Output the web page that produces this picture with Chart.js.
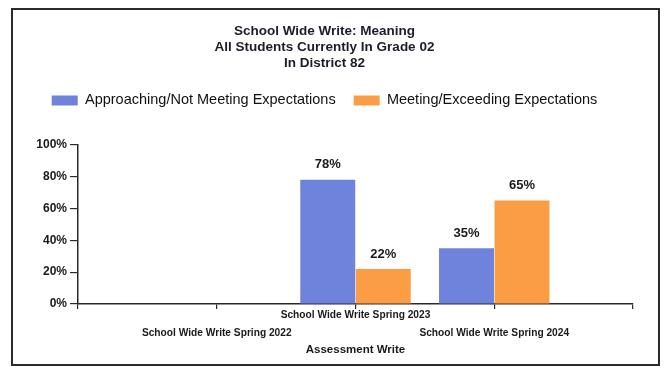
<!DOCTYPE html>
<html>
<head>
<meta charset="utf-8">
<script src="https://cdn.jsdelivr.net/npm/chart.js@4"></script>
<style>
  html, body { margin: 0; padding: 0; background: #ffffff; }
  #wrap { position: relative; width: 667px; height: 366px; overflow: hidden; }
  #frame { position: absolute; left: 11px; top: 8px; width: 645px; height: 354px; border: 2px solid #2b2b2b; box-sizing: content-box; }
  canvas { position: absolute; left: 0; top: 0; }
</style>
</head>
<body>
<div id="wrap">
  <div id="frame"></div>
  <canvas id="c" width="667" height="366"></canvas>
</div>
<script>
const titleLines = ['School Wide Write: Meaning', 'All Students Currently In Grade 02', 'In District 82'];
const categories = ['School Wide Write Spring 2022', 'School Wide Write Spring 2023', 'School Wide Write Spring 2024'];
const seriesNames = ['Approaching/Not Meeting Expectations', 'Meeting/Exceeding Expectations'];
const approaching = [null, 78, 35];
const meeting = [null, 22, 65];
const yTicks = [0, 20, 40, 60, 80, 100];
const xAxisTitle = 'Assessment Write';

const BLUE = '#6f82dc';
const ORANGE = '#fb9d45';

// padded category axis: empty slot before and after
const labels = [''].concat(categories, ['']);
const pad = arr => [null].concat(arr, [null]);

const legendGap = {
  id: 'legendGap',
  beforeUpdate(chart) {
    const lg = chart.legend;
    if (lg && !lg._gapWrapped) {
      const f = lg.fit;
      lg.fit = function () { f.call(this); this.height += 27; };
      lg._gapWrapped = true;
    }
  }
};

const valueLabels = {
  id: 'valueLabels',
  afterDatasetsDraw(chart) {
    const ctx = chart.ctx;
    ctx.save();
    ctx.font = 'bold 13px "Liberation Sans", Arial, sans-serif';
    ctx.fillStyle = '#1a1a1a';
    ctx.textAlign = 'center';
    ctx.textBaseline = 'middle';
    chart.data.datasets.forEach((ds, di) => {
      const meta = chart.getDatasetMeta(di);
      meta.data.forEach((el, i) => {
        const v = ds.data[i];
        if (v === null || v === undefined) return;
        ctx.fillText(v + '%', el.x, el.y - 15);
      });
    });
    ctx.restore();
  }
};

new Chart(document.getElementById('c'), {
  type: 'bar',
  data: {
    labels: labels,
    datasets: [
      { label: seriesNames[0], data: pad(approaching), backgroundColor: BLUE, borderWidth: 0, categoryPercentage: 0.8, barPercentage: 0.99 },
      { label: seriesNames[1], data: pad(meeting), backgroundColor: ORANGE, borderWidth: 0, categoryPercentage: 0.8, barPercentage: 0.99 }
    ]
  },
  options: {
    responsive: false,
    animation: false,
    layout: { padding: { left: 16, right: 34, top: 13, bottom: 5 } },
    plugins: {
      title: {
        display: true,
        text: titleLines,
        color: '#1c1c2a',
        font: { family: '"Liberation Sans", Arial, sans-serif', size: 13.5, weight: 'bold', lineHeight: 1.19 },
        padding: { top: 10, bottom: 4 }
      },
      legend: {
        display: true,
        position: 'top',
        labels: {
          boxWidth: 26,
          boxHeight: 10,
          padding: 18,
          color: '#111111',
          font: { family: '"Liberation Sans", Arial, sans-serif', size: 14.5 }
        }
      },
      tooltip: { enabled: false }
    },
    scales: {
      x: {
        type: 'category',
        offset: false,
        border: { display: true, color: '#2a2a2a', width: 1.5 },
        grid: { display: true, offset: false, drawOnChartArea: false, drawTicks: true, tickLength: 5, color: '#2a2a2a', lineWidth: 1.2 },
        ticks: {
          autoSkip: false,
          maxRotation: 0,
          minRotation: 0,
          padding: -3,
          color: '#1a1a1a',
          font: { family: '"Liberation Sans", Arial, sans-serif', size: 10.2, weight: 'bold', lineHeight: 1.76 },
          callback: function (value) {
            const lab = this.getLabelForValue(value);
            if (!lab) return '';
            const k = categories.indexOf(lab);
            return k % 2 === 1 ? lab : ['', lab];
          }
        },
        title: {
          display: true,
          text: xAxisTitle,
          color: '#1a1a1a',
          font: { family: '"Liberation Sans", Arial, sans-serif', size: 11.5, weight: 'bold', lineHeight: 1.2 },
          padding: { top: 4, bottom: 4 }
        },
        afterFit: s => { s.height = 57; }
      },
      y: {
        min: 0,
        max: 100,
        border: { display: true, color: '#2a2a2a', width: 1.5 },
        grid: { display: true, drawOnChartArea: false, drawTicks: true, tickLength: 8, color: '#2a2a2a', lineWidth: 1.2 },
        ticks: {
          stepSize: 20,
          padding: 3,
          color: '#1a1a1a',
          font: { family: '"Liberation Sans", Arial, sans-serif', size: 12, weight: 'bold' },
          callback: v => yTicks.includes(v) ? v + '%' : ''
        },
        afterFit: s => { s.width = 62; }
      }
    }
  },
  plugins: [legendGap, valueLabels]
});
</script>
</body>
</html>
